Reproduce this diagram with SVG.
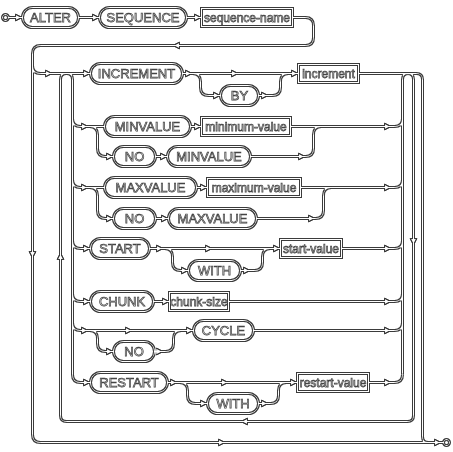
<svg xmlns="http://www.w3.org/2000/svg" xmlns:xlink="http://www.w3.org/1999/xlink" width="453" height="452" viewBox="0 0 453 452">
  <style>
    .wire{fill:none;stroke:#3a3a3a;stroke-width:3}
    .term{fill:none;stroke:#3a3a3a;stroke-width:3}
    .nt{fill:none;stroke:#3a3a3a;stroke-width:3}
    .dot{fill:none;stroke:#3a3a3a;stroke-width:3}
    .arr{fill:#3a3a3a;stroke:#3a3a3a;stroke-width:1}
    text{font-family:"Liberation Sans",Arial,sans-serif;font-size:13px;fill:#fff;stroke:#444;stroke-width:0.75;text-anchor:middle;dominant-baseline:central}
    text.lc{font-size:12px}
  </style>
  <defs>
    <!-- outline rendering: keep only the rim of every dark stroke -->
    <filter id="hollow" filterUnits="userSpaceOnUse" x="0" y="0" width="453" height="452">
      <feMorphology in="SourceAlpha" operator="erode" radius="1" result="core"/>
      <feComposite in="SourceGraphic" in2="core" operator="out"/>
    </filter>
    <!-- pass-through, keeps label antialiasing greyscale -->
    <filter id="flat" filterUnits="userSpaceOnUse" x="0" y="0" width="453" height="452">
      <feOffset dx="0" dy="0"/>
    </filter>
    <path id="arrow" d="M-7,-3.5 L0,0 L-7,3.5 Z"/>
  </defs>
  <rect width="453" height="452" fill="#fff"/>
  <g transform="translate(0.5,0.5)">
    <g filter="url(#hollow)">
      <g id="connectors">
        <circle class="dot" cx="5" cy="17" r="3"/>
        <circle class="dot" cx="446" cy="442" r="3"/>
        <path class="wire" d="M8,17 H22 M78,17 H99 M186,17 H201"/>
        <path class="wire" d="M292,17 H305 Q313,17 313,25 V37 Q313,45 305,45 H40 Q32,45 32,53 V434 Q32,442 40,442 H443"/>
        <!-- INCREMENT row -->
        <path class="wire" d="M32,65 Q32,73 40,73 H90 M182,73 H298"/>
        <path class="wire" d="M192,73 Q200,73 200,81 V87 Q200,95 208,95 H220 M258,95 H272 Q280,95 280,87 V81 Q280,73 288,73"/>
        <path class="wire" d="M358,73 H416 Q422,73 422,79 V436 Q422,442 428,442"/>
        <!-- loop back -->
        <path class="wire" d="M407,73 Q413,73 413,79 V415 Q413,421 407,421 H66 Q60,421 60,415 V79 Q60,73 66,73"/>
        <!-- left branch rail -->
        <path class="wire" d="M66,73 Q72,73 72,79 V374 Q72,382 80,382 H90 M72,118 Q72,126 80,126 H104 M72,179 Q72,187 80,187 H104 M72,240 Q72,248 80,248 H90 M72,293 Q72,301 80,301 H90 M72,322 Q72,330 80,330 H193"/>
        <!-- right join rail -->
        <path class="wire" d="M402,374 V79 Q402,73 408,73"/>
        <!-- MINVALUE rows -->
        <path class="wire" d="M190,126 H201 M290,126 H394 Q402,126 402,118"/>
        <path class="wire" d="M89,126 Q97,126 97,134 V148 Q97,156 105,156 H113 M155,156 H167 M250,156 H305 Q313,156 313,148 V134 Q313,126 321,126"/>
        <!-- MAXVALUE rows -->
        <path class="wire" d="M196,187 H207 M300,187 H394 Q402,187 402,179"/>
        <path class="wire" d="M89,187 Q97,187 97,195 V210 Q97,218 105,218 H113 M155,218 H168 M256,218 H315 Q323,218 323,210 V195 Q323,187 331,187"/>
        <!-- START rows -->
        <path class="wire" d="M149,248 H280 M341,248 H394 Q402,248 402,240"/>
        <path class="wire" d="M164,248 Q172,248 172,256 V262 Q172,270 180,270 H188 M240,270 H254 Q262,270 262,262 V256 Q262,248 270,248"/>
        <!-- CHUNK row -->
        <path class="wire" d="M153,301 H169 M228,301 H394 Q402,301 402,293"/>
        <!-- CYCLE rows -->
        <path class="wire" d="M253,330 H394 Q402,330 402,322"/>
        <path class="wire" d="M89,330 Q97,330 97,338 V343 Q97,351 105,351 H113 M154,351 H165 Q173,351 173,343 V338 Q173,330 181,330"/>
        <!-- RESTART rows -->
        <path class="wire" d="M167,382 H297 M368,382 H394 Q402,382 402,374"/>
        <path class="wire" d="M179,382 Q187,382 187,390 V395 Q187,403 195,403 H207 M258,403 H270 Q278,403 278,395 V390 Q278,382 286,382"/>
        <!-- arrowheads -->
        <g class="arr">
          <use xlink:href="#arrow" transform="translate(22,17)"/>
          <use xlink:href="#arrow" transform="translate(99,17)"/>
          <use xlink:href="#arrow" transform="translate(201,17)"/>
          <use xlink:href="#arrow" transform="translate(172,45) rotate(180)"/>
          <use xlink:href="#arrow" transform="translate(32,258) rotate(90)"/>
          <use xlink:href="#arrow" transform="translate(225,442)"/>
          <use xlink:href="#arrow" transform="translate(441,442)"/>
          <use xlink:href="#arrow" transform="translate(52,73)"/>
          <use xlink:href="#arrow" transform="translate(90,73)"/>
          <use xlink:href="#arrow" transform="translate(192,73)"/>
          <use xlink:href="#arrow" transform="translate(238,73)"/>
          <use xlink:href="#arrow" transform="translate(298,73)"/>
          <use xlink:href="#arrow" transform="translate(220,95)"/>
          <use xlink:href="#arrow" transform="translate(268,95)"/>
          <use xlink:href="#arrow" transform="translate(413,245) rotate(90)"/>
          <use xlink:href="#arrow" transform="translate(240,421) rotate(180)"/>
          <use xlink:href="#arrow" transform="translate(60,252) rotate(-90)"/>
          <use xlink:href="#arrow" transform="translate(88,126)"/>
          <use xlink:href="#arrow" transform="translate(201,126)"/>
          <use xlink:href="#arrow" transform="translate(391,126)"/>
          <use xlink:href="#arrow" transform="translate(113,156)"/>
          <use xlink:href="#arrow" transform="translate(167,156)"/>
          <use xlink:href="#arrow" transform="translate(305,156)"/>
          <use xlink:href="#arrow" transform="translate(88,187)"/>
          <use xlink:href="#arrow" transform="translate(207,187)"/>
          <use xlink:href="#arrow" transform="translate(391,187)"/>
          <use xlink:href="#arrow" transform="translate(113,218)"/>
          <use xlink:href="#arrow" transform="translate(168,218)"/>
          <use xlink:href="#arrow" transform="translate(315,218)"/>
          <use xlink:href="#arrow" transform="translate(90,248)"/>
          <use xlink:href="#arrow" transform="translate(163,248)"/>
          <use xlink:href="#arrow" transform="translate(212,248)"/>
          <use xlink:href="#arrow" transform="translate(280,248)"/>
          <use xlink:href="#arrow" transform="translate(391,248)"/>
          <use xlink:href="#arrow" transform="translate(188,270)"/>
          <use xlink:href="#arrow" transform="translate(250,270)"/>
          <use xlink:href="#arrow" transform="translate(90,301)"/>
          <use xlink:href="#arrow" transform="translate(169,301)"/>
          <use xlink:href="#arrow" transform="translate(391,301)"/>
          <use xlink:href="#arrow" transform="translate(88,330)"/>
          <use xlink:href="#arrow" transform="translate(132,330)"/>
          <use xlink:href="#arrow" transform="translate(193,330)"/>
          <use xlink:href="#arrow" transform="translate(391,330)"/>
          <use xlink:href="#arrow" transform="translate(113,351)"/>
          <use xlink:href="#arrow" transform="translate(163,351)"/>
          <use xlink:href="#arrow" transform="translate(90,382)"/>
          <use xlink:href="#arrow" transform="translate(177,382)"/>
          <use xlink:href="#arrow" transform="translate(228,382)"/>
          <use xlink:href="#arrow" transform="translate(297,382)"/>
          <use xlink:href="#arrow" transform="translate(391,382)"/>
          <use xlink:href="#arrow" transform="translate(207,403)"/>
          <use xlink:href="#arrow" transform="translate(268,403)"/>
        </g>
      </g>
      <!-- node outlines -->
      <g id="n-alter"><rect class="term" x="22" y="7" width="56" height="20" rx="10"/></g>
      <g id="n-sequence"><rect class="term" x="99" y="7" width="87" height="20" rx="10"/></g>
      <g id="n-sequence-name"><rect class="nt" x="201" y="8" width="91" height="18"/></g>
      <g id="n-increment-kw"><rect class="term" x="90" y="63" width="92" height="20" rx="10"/></g>
      <g id="n-by"><rect class="term" x="220" y="85" width="38" height="20" rx="10"/></g>
      <g id="n-increment"><rect class="nt" x="298" y="64" width="60" height="18"/></g>
      <g id="n-minvalue"><rect class="term" x="104" y="116" width="86" height="20" rx="10"/></g>
      <g id="n-minimum-value"><rect class="nt" x="201" y="117" width="89" height="18"/></g>
      <g id="n-no-min"><rect class="term" x="113" y="146" width="42" height="20" rx="10"/></g>
      <g id="n-minvalue-2"><rect class="term" x="167" y="146" width="83" height="20" rx="10"/></g>
      <g id="n-maxvalue"><rect class="term" x="104" y="177" width="92" height="20" rx="10"/></g>
      <g id="n-maximum-value"><rect class="nt" x="207" y="178" width="93" height="18"/></g>
      <g id="n-no-max"><rect class="term" x="113" y="208" width="42" height="20" rx="10"/></g>
      <g id="n-maxvalue-2"><rect class="term" x="168" y="208" width="88" height="20" rx="10"/></g>
      <g id="n-start"><rect class="term" x="90" y="238" width="59" height="20" rx="10"/></g>
      <g id="n-with-start"><rect class="term" x="188" y="260" width="52" height="20" rx="10"/></g>
      <g id="n-start-value"><rect class="nt" x="280" y="239" width="61" height="18"/></g>
      <g id="n-chunk"><rect class="term" x="90" y="291" width="63" height="20" rx="10"/></g>
      <g id="n-chunk-size"><rect class="nt" x="169" y="292" width="59" height="18"/></g>
      <g id="n-cycle"><rect class="term" x="193" y="320" width="60" height="20" rx="10"/></g>
      <g id="n-no-cycle"><rect class="term" x="113" y="341" width="41" height="20" rx="10"/></g>
      <g id="n-restart"><rect class="term" x="90" y="372" width="77" height="20" rx="10"/></g>
      <g id="n-with-restart"><rect class="term" x="207" y="393" width="51" height="20" rx="10"/></g>
      <g id="n-restart-value"><rect class="nt" x="297" y="373" width="71" height="18"/></g>
    </g>
    <!-- node labels -->
    <g id="labels" filter="url(#flat)">
      <text x="50" y="17">ALTER</text>
      <text x="142.5" y="17">SEQUENCE</text>
      <text class="lc" x="246.5" y="17">sequence-name</text>
      <text x="136" y="73">INCREMENT</text>
      <text x="239" y="95">BY</text>
      <text class="lc" x="328" y="73">increment</text>
      <text x="147" y="126">MINVALUE</text>
      <text class="lc" x="245.5" y="126">minimum-value</text>
      <text x="134" y="156">NO</text>
      <text x="208.5" y="156">MINVALUE</text>
      <text x="150" y="187">MAXVALUE</text>
      <text class="lc" x="253.5" y="187">maximum-value</text>
      <text x="134" y="218">NO</text>
      <text x="212" y="218">MAXVALUE</text>
      <text x="119.5" y="248">START</text>
      <text x="214" y="270">WITH</text>
      <text class="lc" x="310.5" y="248">start-value</text>
      <text x="121.5" y="301">CHUNK</text>
      <text class="lc" x="198.5" y="301">chunk-size</text>
      <text x="223" y="330">CYCLE</text>
      <text x="133.5" y="351">NO</text>
      <text x="128.5" y="382">RESTART</text>
      <text x="232.5" y="403">WITH</text>
      <text class="lc" x="332.5" y="382">restart-value</text>
    </g>
  </g>
</svg>
